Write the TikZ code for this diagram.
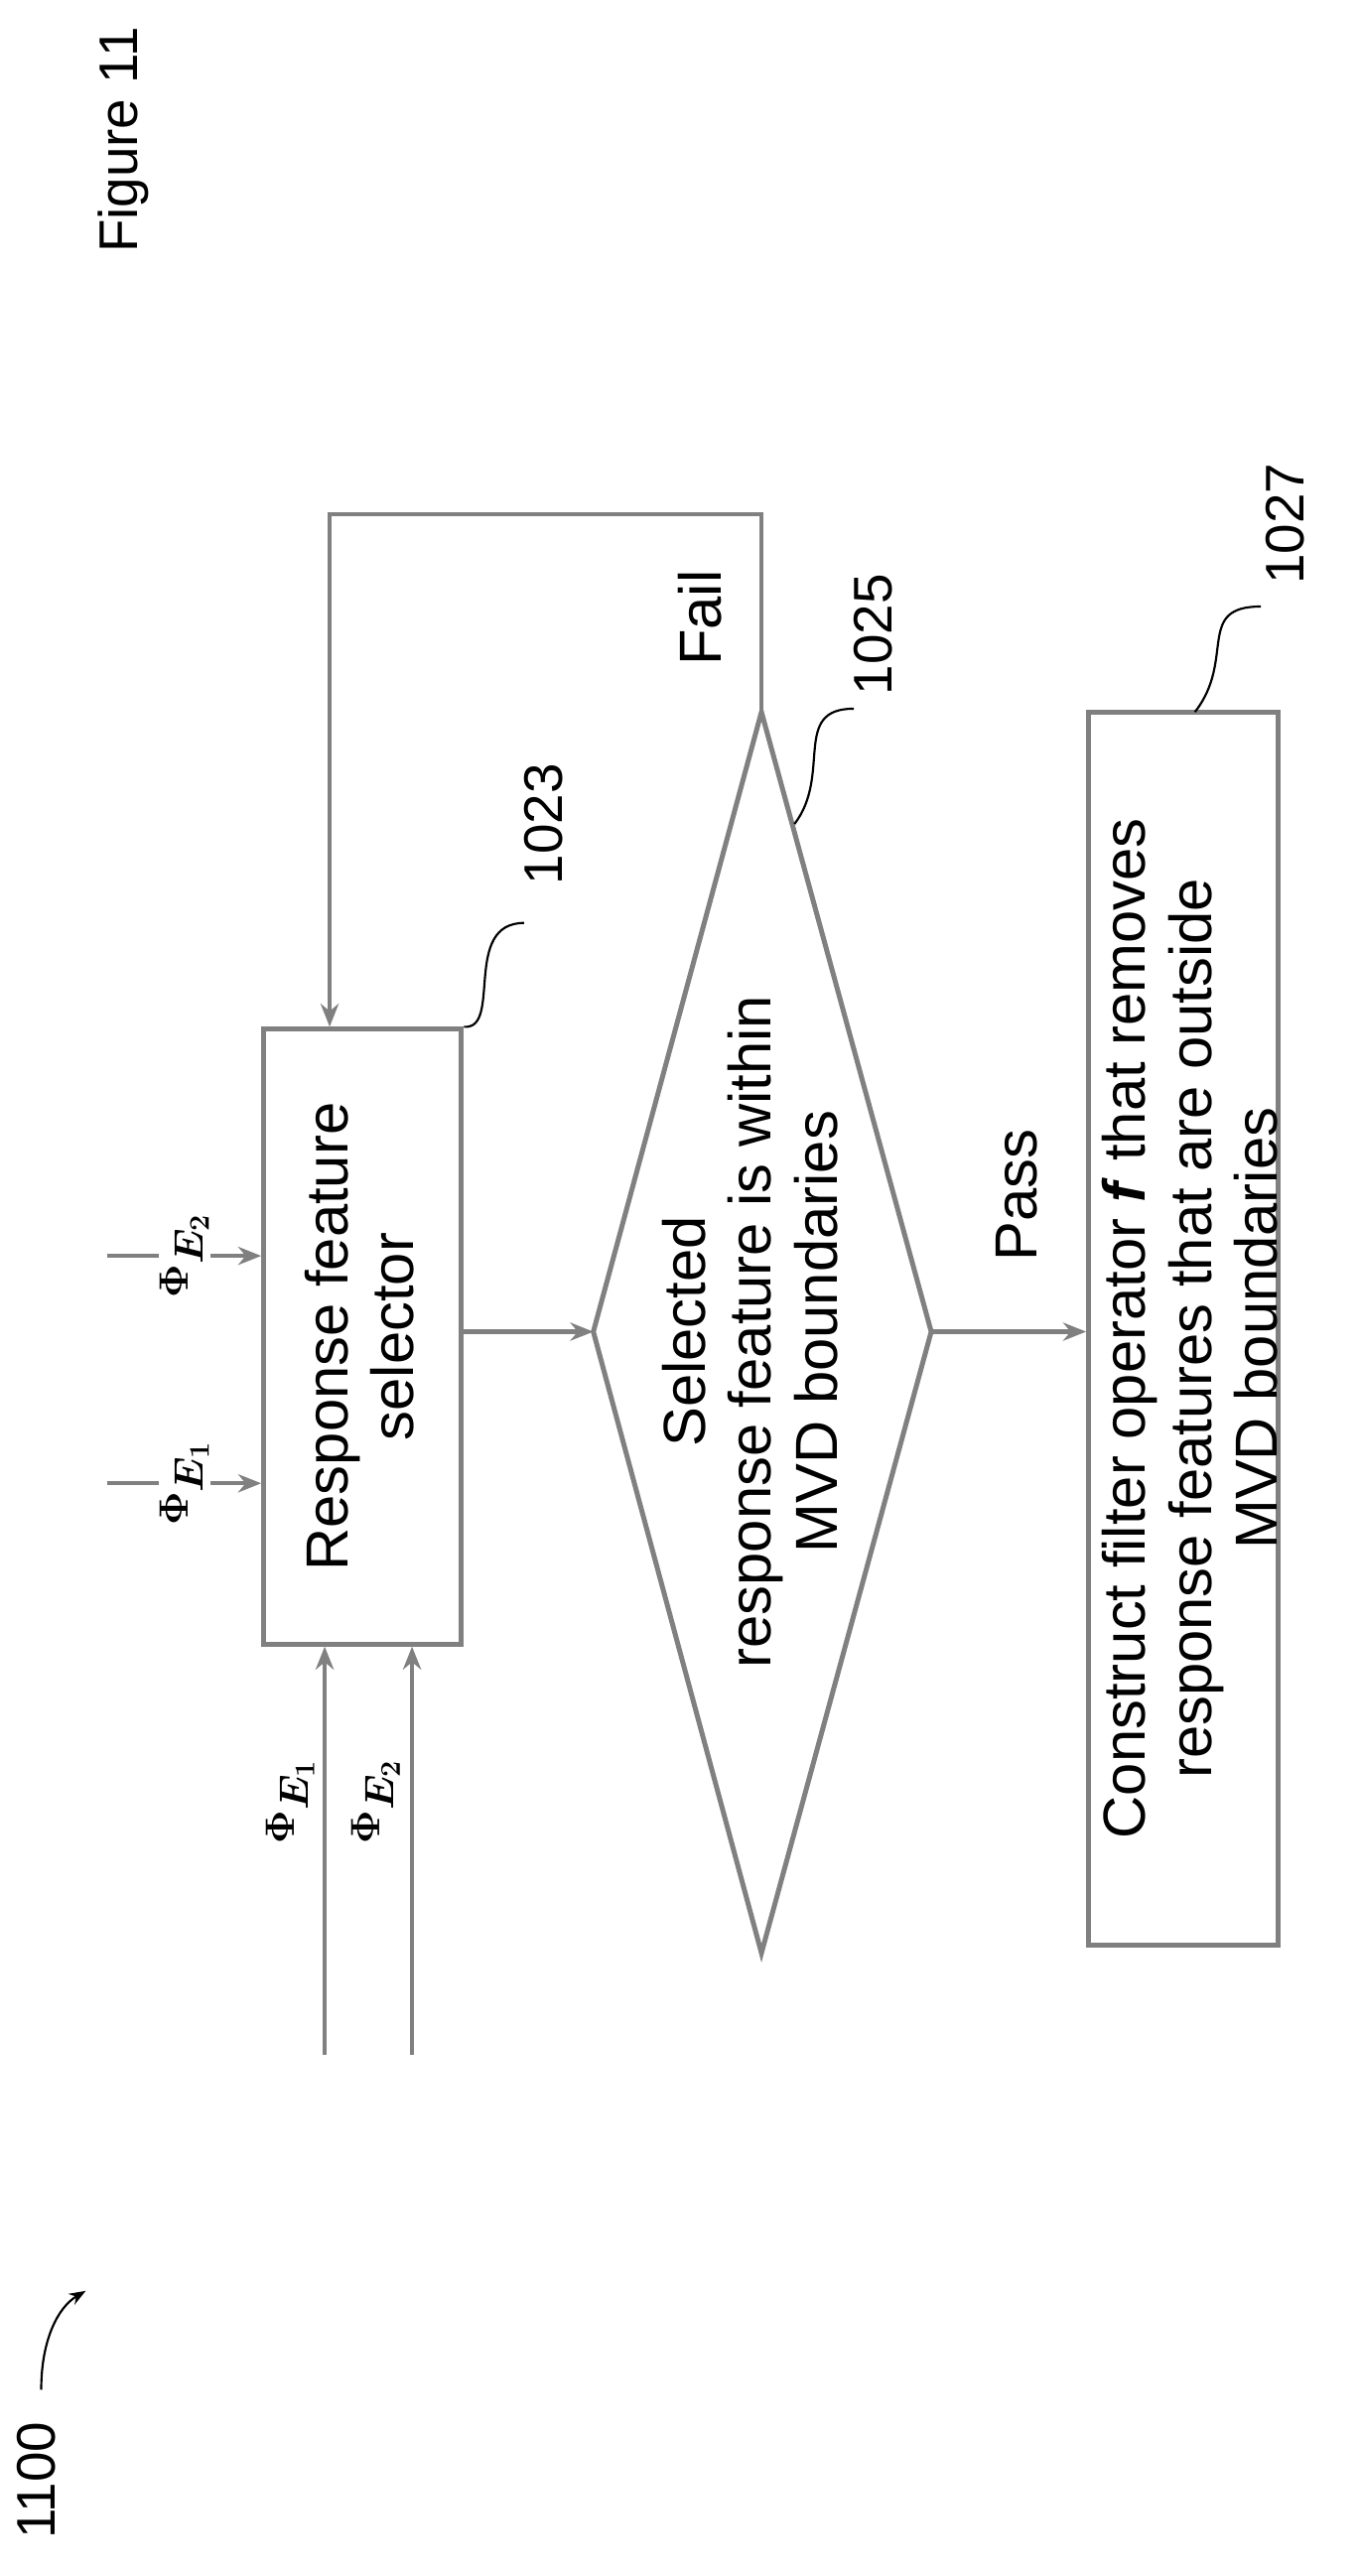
\documentclass[tikz,border=0pt]{standalone}
\usepackage{bm}
\usepackage{fontspec}
\setmainfont{Liberation Sans}
\usetikzlibrary{arrows.meta}
\begin{document}
\begin{tikzpicture}[x=1pt,y=-1pt,
  ln/.style={draw=black!50,line width=2.5pt},
  arr/.style={ln,-{Stealth[length=14pt,width=11pt]}},
  box/.style={draw=black!50,line width=3pt,fill=white},
  txt/.style={rotate=90,font=\fontsize{36}{40}\selectfont,align=center},
  num/.style={rotate=90,font=\fontsize{33}{36}\selectfont},
  phi/.style={rotate=90,font=\fontsize{36}{38}\selectfont},
  sq/.style={draw=black,line width=1.3pt}]
\useasboundingbox (0,0) rectangle (826,1563);
% nodes
\path (220,811) node[box,minimum width=120pt,minimum height=373pt] (b1) {};
\node[txt] (t1) at (218,811) {Response feature\\selector};
\draw[box] (462,432) -- (565,808) -- (462,1185) -- (360,808) -- cycle;
\coordinate (dT) at (462,432); \coordinate (dR) at (565,808); \coordinate (dL) at (360,808);
\node[txt] (t2) at (455,808) {Selected\\response feature is within\\MVD boundaries};
\path (718,806) node[box,minimum width=115pt,minimum height=748pt] (b3) {};
\node[txt] (t3) at (722,806) {Construct filter operator \textbf{\textit{f}} that removes\\response features that are outside\\MVD boundaries};
% connectors
\draw[arr] (b1.east|-dL) -- (dL);
\draw[arr] (dR) -- (b3.west|-dR);
\node[txt] (pass) at (617,725) {Pass};
\coordinate (f1) at (462,312); \coordinate (f2) at (200,312);
\draw[arr] (dT) -- (f1) -- (f2) -- (b1.north-|f2);
\node[txt] (fail) at (425,375) {Fail};
% bottom inputs
\coordinate (i1) at (197,1247); \coordinate (i2) at (250,1247);
\draw[arr] (i1) -- (b1.south-|i1);
\draw[arr] (i2) -- (b1.south-|i2);
\node[phi] (p1) at (176,1093) {$\bm{\Phi}_{\bm{E_1}}$};
\node[phi] (p2) at (228,1093) {$\bm{\Phi}_{\bm{E_2}}$};
% left inputs
\coordinate (l1) at (65,900); \coordinate (l2) at (65,762);
\draw[arr] (l1) -- (b1.west|-l1);
\draw[arr] (l2) -- (b1.west|-l2);
\node[phi,fill=white,inner sep=1pt] (p3) at (112,900) {$\bm{\Phi}_{\bm{E_1}}$};
\node[phi,fill=white,inner sep=1pt] (p4) at (112,762) {$\bm{\Phi}_{\bm{E_2}}$};
% callouts
\node[num] (c1) at (330,500) {1023};
\draw[sq] (b1.north east) .. controls (305,625) and (280,560) .. (318,560);
\node[num] (c2) at (530,385) {1025};
\draw[sq] (482,500) .. controls (505,470) and (480,430) .. (518,430);
\node[num] (c3) at (780,318) {1027};
\draw[sq] (725,432) .. controls (750,400) and (725,368) .. (765,368);
\node[num] (fig) at (75,85) {Figure 11};
\node[num] (n1100) at (22,1505) {1100};
\draw[sq,-{Stealth[length=10pt]}] (25,1450) .. controls (25,1420) and (35,1400) .. (52,1390);
\end{tikzpicture}
\end{document}
